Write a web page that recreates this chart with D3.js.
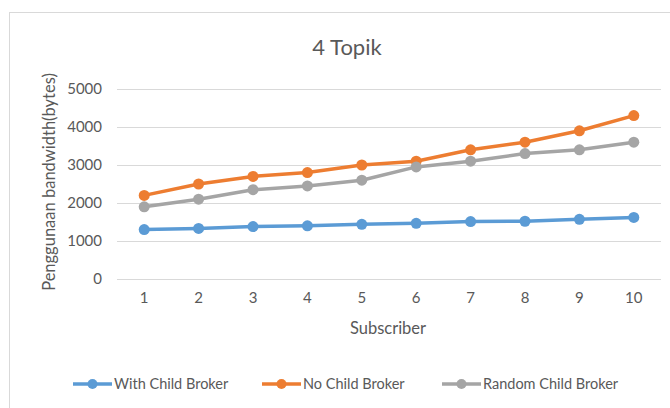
<!DOCTYPE html>
<html>
<head>
<meta charset="utf-8">
<script src="https://cdn.jsdelivr.net/npm/d3@7"></script>
<style>
  body { margin: 0; background: #fff; }
  text { font-family: Lato, "Open Sans", sans-serif; fill: #595959; }
</style>
</head>
<body>
<script>
// data
var subscribers = ["1", "2", "3", "4", "5", "6", "7", "8", "9", "10"];
var withChild = [1300, 1330, 1380, 1400, 1440, 1465, 1510, 1520, 1570, 1620];
var noChild = [2200, 2500, 2700, 2800, 3000, 3100, 3400, 3600, 3900, 4300];
var randomChild = [1900, 2100, 2350, 2450, 2600, 2950, 3100, 3300, 3400, 3600];
var yTicks = [0, 1000, 2000, 3000, 4000, 5000];
var seriesNames = ["With Child Broker", "No Child Broker", "Random Child Broker"];
var seriesColors = ["#5B9BD5", "#ED7D31", "#A5A5A5"];

var series = [withChild, noChild, randomChild].map(function(vals, i) {
  return { name: seriesNames[i], color: seriesColors[i], values: vals };
});

var svgWidth = 670, svgHeight = 408;
var margin = { top: 89, right: 9, bottom: 129, left: 117 };
var chartWidth = svgWidth - margin.left - margin.right;
var chartHeight = svgHeight - margin.top - margin.bottom;

var svg = d3.select("body").append("svg")
  .attr("width", svgWidth)
  .attr("height", svgHeight);

// outer chart border (runs past the right/bottom edge)
svg.append("rect")
  .attr("x", 9.5).attr("y", 12.5)
  .attr("width", 800).attr("height", 600)
  .attr("fill", "none")
  .attr("stroke", "#D9D9D9");

svg.append("text")
  .attr("x", 347).attr("y", 55)
  .attr("text-anchor", "middle")
  .attr("font-size", 22)
  .text("4 Topik");

var chartGroup = svg.append("g")
  .attr("transform", `translate(${margin.left}, ${margin.top})`);

var xScale = d3.scaleBand()
  .domain(subscribers)
  .range([0, chartWidth]);

var yScale = d3.scaleLinear()
  .domain([0, 5000])
  .range([chartHeight, 0]);

// gridlines + y labels
var yAxis = d3.axisLeft(yScale).tickValues(yTicks).tickFormat(d3.format("d"))
  .tickSize(-chartWidth).tickPadding(15);
var yG = chartGroup.append("g").call(yAxis);
yG.select(".domain").remove();
yG.selectAll("line").attr("stroke", "#D9D9D9").attr("stroke-width", 1);
yG.selectAll("text").attr("font-size", 15).attr("fill", "#595959").attr("font-family", "Lato, sans-serif");

var xAxis = d3.axisBottom(xScale).tickSize(0).tickPadding(13);
var xG = chartGroup.append("g")
  .attr("transform", `translate(0,${chartHeight})`)
  .call(xAxis);
xG.select(".domain").remove();
xG.selectAll("text").attr("font-size", 15).attr("fill", "#595959").attr("font-family", "Lato, sans-serif");

// axis titles
svg.append("text")
  .attr("transform", "translate(55," + (margin.top + chartHeight / 2 - 2) + ") rotate(-90)")
  .attr("text-anchor", "middle")
  .attr("font-size", 16.5)
  .text("Penggunaan bandwidth(bytes)");

svg.append("text")
  .attr("x", 388)
  .attr("y", 334)
  .attr("text-anchor", "middle")
  .attr("font-size", 16.5)
  .text("Subscriber");

var line = d3.line()
  .x(function(d, i) { return xScale(subscribers[i]) + xScale.bandwidth() / 2; })
  .y(function(d) { return yScale(d); });

var sG = chartGroup.selectAll(".series")
  .data(series)
  .enter()
  .append("g")
  .attr("class", "series");

sG.append("path")
  .attr("d", function(d) { return line(d.values); })
  .attr("fill", "none")
  .attr("stroke", function(d) { return d.color; })
  .attr("stroke-width", 3.5)
  .attr("stroke-linejoin", "round");

sG.selectAll("circle")
  .data(function(d) { return d.values.map(function(v) { return { v: v, color: d.color }; }); })
  .enter()
  .append("circle")
  .attr("cx", function(d, i) { return xScale(subscribers[i]) + xScale.bandwidth() / 2; })
  .attr("cy", function(d) { return yScale(d.v); })
  .attr("r", 5.5)
  .attr("fill", function(d) { return d.color; });

// legend
var legendX = [73, 262, 442];
var legend = svg.selectAll(".legend")
  .data(series)
  .enter()
  .append("g")
  .attr("class", "legend")
  .attr("transform", function(d, i) { return `translate(${legendX[i]}, 384)`; });

legend.append("line")
  .attr("x1", 0).attr("x2", 39)
  .attr("stroke", function(d) { return d.color; })
  .attr("stroke-width", 3.5);
legend.append("circle")
  .attr("cx", 19.5).attr("r", 5)
  .attr("fill", function(d) { return d.color; });
legend.append("text")
  .attr("x", 41).attr("y", 5)
  .attr("font-size", 14.5)
  .text(function(d) { return d.name; });
</script>
</body>
</html>
